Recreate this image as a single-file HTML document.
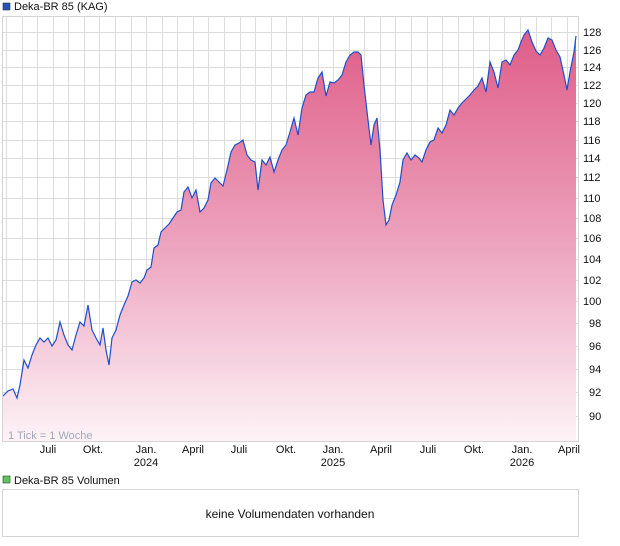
<!DOCTYPE html>
<html><head><meta charset="utf-8"><style>
body{margin:0;background:#fff;}
svg{display:block;font-family:"Liberation Sans",Arial,sans-serif;}
</style></head><body>
<svg width="620" height="546" viewBox="0 0 620 546" xmlns="http://www.w3.org/2000/svg">
<defs>
<linearGradient id="g" gradientUnits="userSpaceOnUse" x1="0" y1="30" x2="0" y2="441">
<stop offset="0" stop-color="#df5d88"/>
<stop offset="0.5" stop-color="#eca0bb"/>
<stop offset="1" stop-color="#fdf3f7"/>
</linearGradient>
</defs>
<rect x="3" y="3" width="7" height="7" fill="#2255bb" stroke="#333" stroke-width="0.6"/>
<text x="14" y="10" font-size="11" fill="#111">Deka-BR 85 (KAG)</text>
<g stroke="#dcdcdc" stroke-width="1">
<line x1="3" y1="16.5" x2="578" y2="16.5"/>
<line x1="3" y1="32.5" x2="578" y2="32.5"/><line x1="3" y1="50.5" x2="578" y2="50.5"/><line x1="3" y1="67.5" x2="578" y2="67.5"/><line x1="3" y1="85.5" x2="578" y2="85.5"/><line x1="3" y1="103.5" x2="578" y2="103.5"/><line x1="3" y1="121.5" x2="578" y2="121.5"/><line x1="3" y1="140.5" x2="578" y2="140.5"/><line x1="3" y1="158.5" x2="578" y2="158.5"/><line x1="3" y1="177.5" x2="578" y2="177.5"/><line x1="3" y1="198.5" x2="578" y2="198.5"/><line x1="3" y1="218.5" x2="578" y2="218.5"/><line x1="3" y1="238.5" x2="578" y2="238.5"/><line x1="3" y1="259.5" x2="578" y2="259.5"/><line x1="3" y1="280.5" x2="578" y2="280.5"/><line x1="3" y1="301.5" x2="578" y2="301.5"/><line x1="3" y1="323.5" x2="578" y2="323.5"/><line x1="3" y1="346.5" x2="578" y2="346.5"/><line x1="3" y1="369.5" x2="578" y2="369.5"/><line x1="3" y1="392.5" x2="578" y2="392.5"/><line x1="3" y1="416.5" x2="578" y2="416.5"/>
<path d="M6.5 16V441M22.5 16V441M37.5 16V441M53.5 16V441M68.5 16V441M84.5 16V441M99.5 16V441M115.5 16V441M131.5 16V441M146.5 16V441M162.5 16V441M177.5 16V441M193.5 16V441M208.5 16V441M224.5 16V441M240.5 16V441M255.5 16V441M271.5 16V441M286.5 16V441M302.5 16V441M318.5 16V441M333.5 16V441M349.5 16V441M364.5 16V441M380.5 16V441M395.5 16V441M411.5 16V441M427.5 16V441M442.5 16V441M458.5 16V441M473.5 16V441M489.5 16V441M504.5 16V441M520.5 16V441M536.5 16V441M551.5 16V441M567.5 16V441"/>
</g>
<path fill="url(#g)" d="M3,396 L8,391 L13,389 L17,398 L20,385 L24,360 L28,368 L32,355 L36,345 L40,338 L44,342 L48,338 L52,346 L56,340 L60,322 L64,335 L68,345 L72,350 L76,335 L80,322 L84,326 L88,305 L92,330 L96,338 L100,345 L103,328 L106,350 L109,365 L112,338 L116,330 L120,315 L124,305 L128,296 L132,282 L136,280 L140,283 L144,278 L147,270 L151,267 L154,248 L158,245 L161,232 L165,228 L169,224 L173,218 L177,212 L181,210 L184,192 L188,187 L192,198 L196,190 L200,212 L204,208 L208,200 L211,183 L215,178 L219,182 L223,186 L227,170 L231,152 L235,145 L239,143 L243,140 L247,155 L251,160 L255,162 L258,190 L262,160 L266,165 L270,157 L274,172 L278,160 L282,150 L286,145 L290,132 L294,118 L298,135 L302,108 L306,95 L310,92 L314,92 L318,78 L322,72 L326,96 L330,82 L334,83 L338,80 L342,75 L346,62 L350,55 L354,52 L358,52 L361,55 L364,85 L368,120 L371,145 L374,125 L377,118 L380,150 L383,200 L386,225 L389,220 L392,205 L396,195 L400,182 L403,160 L407,153 L411,160 L415,155 L419,158 L422,162 L426,150 L430,142 L434,140 L438,128 L442,133 L446,125 L450,110 L454,115 L458,108 L462,103 L466,99 L470,95 L474,90 L478,86 L482,78 L486,92 L490,62 L494,72 L498,88 L502,62 L506,60 L510,65 L514,55 L518,50 L521,42 L524,35 L528,30 L532,42 L536,51 L540,55 L544,48 L548,38 L552,40 L556,50 L560,57 L564,75 L567,90 L570,72 L574,52 L576,36 L576,441 L3,441 Z"/>
<path fill="none" stroke="#1f4fc8" stroke-width="1.2" d="M3,396 L8,391 L13,389 L17,398 L20,385 L24,360 L28,368 L32,355 L36,345 L40,338 L44,342 L48,338 L52,346 L56,340 L60,322 L64,335 L68,345 L72,350 L76,335 L80,322 L84,326 L88,305 L92,330 L96,338 L100,345 L103,328 L106,350 L109,365 L112,338 L116,330 L120,315 L124,305 L128,296 L132,282 L136,280 L140,283 L144,278 L147,270 L151,267 L154,248 L158,245 L161,232 L165,228 L169,224 L173,218 L177,212 L181,210 L184,192 L188,187 L192,198 L196,190 L200,212 L204,208 L208,200 L211,183 L215,178 L219,182 L223,186 L227,170 L231,152 L235,145 L239,143 L243,140 L247,155 L251,160 L255,162 L258,190 L262,160 L266,165 L270,157 L274,172 L278,160 L282,150 L286,145 L290,132 L294,118 L298,135 L302,108 L306,95 L310,92 L314,92 L318,78 L322,72 L326,96 L330,82 L334,83 L338,80 L342,75 L346,62 L350,55 L354,52 L358,52 L361,55 L364,85 L368,120 L371,145 L374,125 L377,118 L380,150 L383,200 L386,225 L389,220 L392,205 L396,195 L400,182 L403,160 L407,153 L411,160 L415,155 L419,158 L422,162 L426,150 L430,142 L434,140 L438,128 L442,133 L446,125 L450,110 L454,115 L458,108 L462,103 L466,99 L470,95 L474,90 L478,86 L482,78 L486,92 L490,62 L494,72 L498,88 L502,62 L506,60 L510,65 L514,55 L518,50 L521,42 L524,35 L528,30 L532,42 L536,51 L540,55 L544,48 L548,38 L552,40 L556,50 L560,57 L564,75 L567,90 L570,72 L574,52 L576,36"/>
<rect x="2.5" y="16.5" width="576" height="425" fill="none" stroke="#d4d4d4"/>
<text x="8" y="439" font-size="11" fill="#a0a8b8">1 Tick = 1 Woche</text>
<g font-size="11" fill="#111">
<text x="583" y="36">128</text><text x="583" y="54">126</text><text x="583" y="71">124</text><text x="583" y="89">122</text><text x="583" y="107">120</text><text x="583" y="125">118</text><text x="583" y="144">116</text><text x="583" y="162">114</text><text x="583" y="181">112</text><text x="583" y="202">110</text><text x="583" y="222">108</text><text x="583" y="242">106</text><text x="583" y="263">104</text><text x="583" y="284">102</text><text x="583" y="305">100</text><text x="589" y="327">98</text><text x="589" y="350">96</text><text x="589" y="373">94</text><text x="589" y="396">92</text><text x="589" y="420">90</text>
</g>
<g font-size="11" fill="#111" text-anchor="middle">
<text x="48" y="453">Juli</text><text x="93" y="453">Okt.</text><text x="146" y="453">Jan.</text><text x="146" y="466">2024</text><text x="193" y="453">April</text>
<text x="239" y="453">Juli</text><text x="286" y="453">Okt.</text><text x="333" y="453">Jan.</text><text x="333" y="466">2025</text><text x="381" y="453">April</text>
<text x="428" y="453">Juli</text><text x="474" y="453">Okt.</text><text x="522" y="453">Jan.</text><text x="522" y="466">2026</text><text x="569" y="453">April</text>
</g>
<rect x="3" y="476" width="7" height="7" fill="#5cc85c" stroke="#333" stroke-width="0.6"/>
<text x="14" y="484" font-size="11" fill="#111">Deka-BR 85 Volumen</text>
<rect x="2.5" y="489.5" width="576" height="47" fill="none" stroke="#d4d4d4"/>
<text x="290" y="518" font-size="12" fill="#111" text-anchor="middle">keine Volumendaten vorhanden</text>
</svg>
</body></html>
